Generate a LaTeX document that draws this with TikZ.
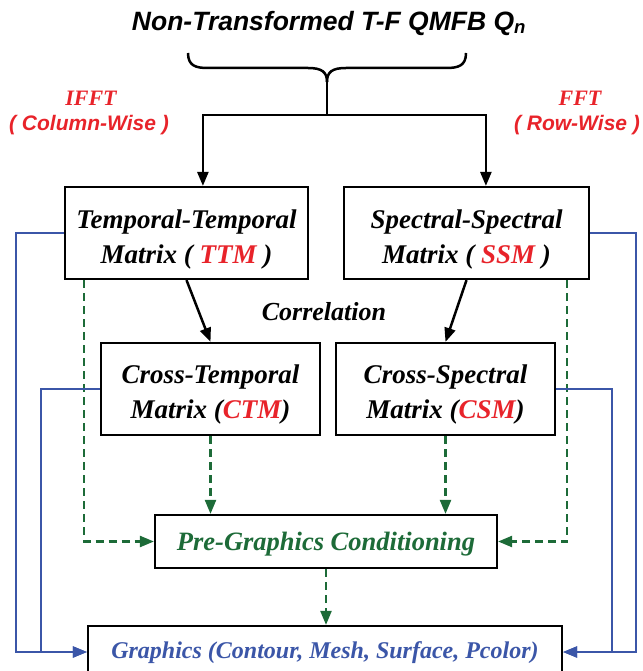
\documentclass[tikz,border=0pt]{standalone}
\usepackage{fontspec}
\setmainfont{Liberation Serif}
\newfontfamily\sansf{Liberation Sans}
\usetikzlibrary{arrows.meta,calc}
\definecolor{myred}{HTML}{E8232A}
\definecolor{mygreen}{HTML}{1D6B38}
\definecolor{myblue}{HTML}{3B56A8}
\newcommand{\topstrut}[1]{\rule{0pt}{#1}}
\begin{document}
\begin{tikzpicture}[x=1pt,y=-1pt,
  box/.style={draw=black,line width=2.2pt,fill=white,inner sep=0pt,align=center,
    font=\fontsize{27}{35}\selectfont\bfseries\itshape},
  blk/.style={draw=black,line width=2.5pt,-{Triangle[length=14pt,width=11pt]}},
  grn/.style={draw=mygreen,line width=2.3pt,dash pattern=on 8pt off 5pt,
    -{Triangle[length=14pt,width=11pt]}},
  blu/.style={draw=myblue,line width=1.9pt,-{Triangle[length=14pt,width=11pt]}},
  lbl/.style={inner sep=0pt,font=\fontsize{26}{35}\selectfont\bfseries\itshape},
  rtop/.style={inner sep=0pt,text=myred,font=\fontsize{22}{26}\selectfont\bfseries\itshape},
  rsub/.style={inner sep=0pt,text=myred,font=\sansf\fontsize{21}{26}\selectfont\bfseries\itshape}
]
\useasboundingbox (0,0) rectangle (642,671);
\clip (0,0) rectangle (642,671);

% title
\node[inner sep=0pt,font=\sansf\fontsize{26.5}{30}\selectfont\bfseries\itshape] (title) at (329,23)
  {Non-Transformed T-F QMFB Q\textsubscript{n}};

% side labels
\node[rtop] (ifft) at (91,98) {IFFT};
\node[rsub] (ifftsub) at (89,125) {( Column-Wise )};
\node[rtop] (fft) at (580,98) {FFT};
\node[rsub] (fftsub) at (577,125) {( Row-Wise )};

% boxes
\node[box,minimum width=243pt,minimum height=92pt] (ttm) at (186.5,233)
  {\topstrut{31pt}Temporal-Temporal\\Matrix ( \textcolor{myred}{TTM} )};
\node[box,minimum width=245pt,minimum height=92pt] (ssm) at (466.5,233)
  {\topstrut{31pt}Spectral-Spectral\\Matrix ( \textcolor{myred}{SSM} )};
\node[box,minimum width=219pt,minimum height=92pt] (ctm) at (210.5,389)
  {\topstrut{30pt}Cross-Temporal\\Matrix (\textcolor{myred}{CTM})};
\node[box,minimum width=219pt,minimum height=92pt] (csm) at (445.5,389)
  {\topstrut{30pt}Cross-Spectral\\Matrix (\textcolor{myred}{CSM})};
\node[box,minimum width=342pt,minimum height=53pt,text=mygreen,
  font=\fontsize{26.5}{35}\selectfont\bfseries\itshape] (pre) at (326,541.5)
  {\topstrut{24pt}Pre-Graphics Conditioning};
\node[box,minimum width=474pt,minimum height=52pt,text=myblue,
  font=\fontsize{24}{35}\selectfont\bfseries\itshape] (gfx) at (325,652)
  {\topstrut{19pt}Graphics (Contour, Mesh, Surface, Pcolor)};

\node[lbl] (corr) at (324,312) {Correlation};

% brace
\coordinate (bt) at (327,82);
\coordinate (j) at (327,115);
\draw[line width=2.5pt] (188,53) .. controls (188,66) and (196,68) .. (208,68) -- (308,68)
  .. controls (322,68) and (327,72) .. (bt);
\draw[line width=2.5pt] (466,53) .. controls (466,66) and (458,68) .. (446,68) -- (346,68)
  .. controls (332,68) and (327,72) .. (bt);
\draw[line width=2.5pt] (bt) -- (j);
\draw[blk] (j) -| ([xshift=139pt]ttm.north west);
\draw[blk] (j) -| ([xshift=143pt]ssm.north west);

% correlation arrows
\draw[blk] (ttm.south) -- (ctm.north);
\draw[blk] (ssm.south) -- (csm.north);

% green dashed
\draw[grn] ([xshift=20pt]ttm.south west) |- (pre.west);
\draw[grn] ([xshift=-23pt]ssm.south east) |- (pre.east);
\draw[grn] (ctm.south) -- (ctm.south |- pre.north);
\draw[grn] (csm.south) -- (csm.south |- pre.north);
\draw[grn] (pre.south) -- (pre.south |- gfx.north);

% blue
\draw[blu] (ttm.west) -- ([xshift=-48pt]ttm.west) |- (gfx.west);
\draw[blu] (ctm.west) -- ([xshift=-59pt]ctm.west) |- (gfx.west);
\draw[blu] (ssm.east) -- ([xshift=46pt]ssm.east) |- (gfx.east);
\draw[blu] (csm.east) -- ([xshift=56pt]csm.east) |- (gfx.east);
\end{tikzpicture}
\end{document}
